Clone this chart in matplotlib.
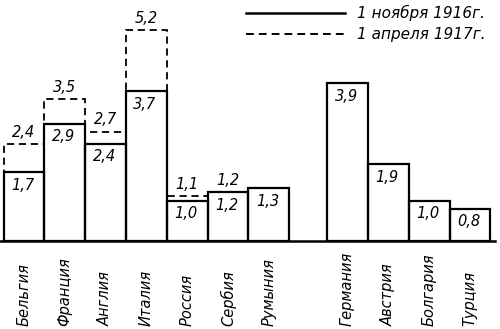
import matplotlib
matplotlib.use("Agg")
import matplotlib.pyplot as plt
from matplotlib.lines import Line2D
from matplotlib.transforms import blended_transform_factory
import numpy as np

# Data
entente = ["Бельгия", "Франция", "Англия", "Италия", "Россия", "Сербия", "Румыния"]
entente_1916 = [1.7, 2.9, 2.4, 3.7, 1.0, 1.2, 1.3]
entente_1917 = [2.4, 3.5, 2.7, 5.2, 1.1, 1.2, None]
central = ["Германия", "Австрия", "Болгария", "Турция"]
central_1916 = [3.9, 1.9, 1.0, 0.8]
legend_labels = ["1 ноября 1916г.", "1 апреля 1917г."]

plt.rcParams['font.family'] = ['DejaVu Sans']

W, H = 500, 329
fig = plt.figure(figsize=(W / 100, H / 100), dpi=100)
base_px = 241
ax = fig.add_axes([0, 1 - base_px / H, 1, base_px / H])
ax.set_axis_off()
px_per_unit = 40.5
ax.set_ylim(0, base_px / px_per_unit)

step = 40.8
x0 = 24.0
ax.set_xlim(-x0 / step, (W - x0) / step)

pos_e = np.arange(len(entente), dtype=float)
pos_c = np.arange(len(central), dtype=float) + len(entente) + 0.93

def fmt(v):
    return f"{v:.1f}".replace(".", ",")

lw = 1.6
dash = (0, (4.0, 2.6))

# dashed (1917) bars
for x, v, s in zip(pos_e, entente_1917, entente_1916):
    if v is None:
        continue
    if v > s:
        ax.bar(x, v, width=1.0, fill=False, edgecolor="black", linewidth=1.3,
               linestyle=dash, zorder=2)
    ax.annotate(fmt(v), (x, v), xytext=(0, 3), textcoords="offset points",
                ha="center", va="bottom", fontsize=10.5, style="italic")

# solid (1916) bars
all_pos = np.concatenate([pos_e, pos_c])
all_vals = entente_1916 + central_1916
ax.bar(all_pos, all_vals, width=1.0, fill=False, edgecolor="black",
       linewidth=lw, zorder=3)
for x, v in zip(all_pos, all_vals):
    ax.annotate(fmt(v), (x, v), xytext=(-1, -4), textcoords="offset points",
                ha="center", va="top", fontsize=10.5, style="italic")

# baseline
ax.plot([0, 0.99], [0, 0], transform=ax.transAxes, color="black", lw=1.8,
        clip_on=False, zorder=4)

# category labels
tr = blended_transform_factory(ax.transData, fig.transFigure)
for x, lab in zip(all_pos, entente + central):
    ax.text(x, 1 - 326 / H, lab, rotation=90, ha="center", va="bottom",
            fontsize=10.5, style="italic", transform=tr)

# legend
for y_px, ls, lab in [(13, "-", legend_labels[0]), (34, (0, (4.0, 2.6)), legend_labels[1])]:
    yf = 1 - y_px / H
    fig.add_artist(Line2D([246 / W, 345 / W], [yf, yf], color="black",
                          lw=1.8 if ls == "-" else 1.4, linestyle=ls))
    fig.text(357 / W, yf, lab, ha="left", va="center", fontsize=11,
             style="italic")

fig.savefig("out.png", dpi=100)
